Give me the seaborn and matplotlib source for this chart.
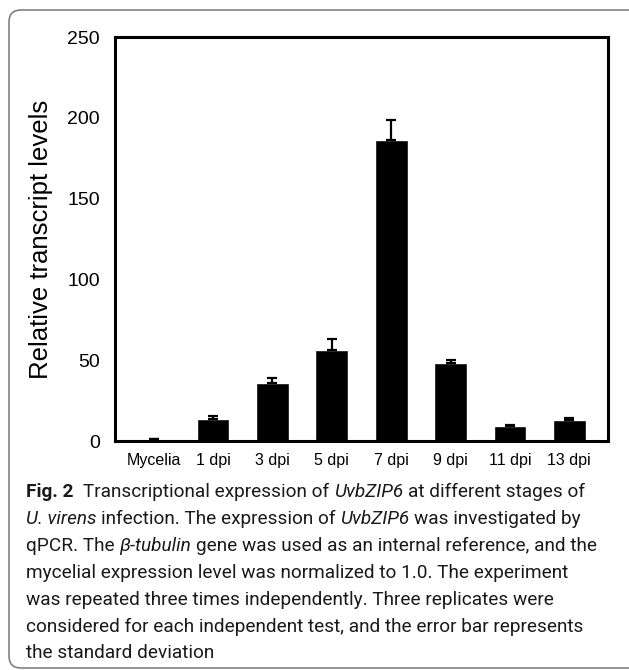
import matplotlib
matplotlib.use("Agg")
import matplotlib.pyplot as plt
import seaborn as sns
import numpy as np
from matplotlib.patches import FancyBboxPatch
from matplotlib.transforms import IdentityTransform

# ---------------- data ----------------
categories = ["Mycelia", "1 dpi", "3 dpi", "5 dpi", "7 dpi", "9 dpi", "11 dpi", "13 dpi"]
values = [1.0, 13.7, 35.7, 56.3, 186.5, 48.0, 9.3, 13.0]
errors = [0.2, 2.0, 3.3, 6.8, 12.4, 2.3, 0.4, 1.0]
yticks = [0, 50, 100, 150, 200, 250]
ylabel = "Relative transcript levels"

caption_lines = [
    [("Fig. 2", "bold"), ("  Transcriptional expression of ", "n"), ("UvbZIP6", "i"), (" at different stages of", "n")],
    [("U. virens", "i"), (" infection. The expression of ", "n"), ("UvbZIP6", "i"), (" was investigated by", "n")],
    [("qPCR. The ", "n"), ("β-tubulin", "i"), (" gene was used as an internal reference, and the", "n")],
    [("mycelial expression level was normalized to 1.0. The experiment", "n")],
    [("was repeated three times independently. Three replicates were", "n")],
    [("considered for each independent test, and the error bar represents", "n")],
    [("the standard deviation", "n")],
]
caption_right = [580, 573, 598, 567, 558, 590, None]

# ---------------- figure ----------------
sns.set_theme(style="white")
plt.rcParams['font.family'] = ['Liberation Sans', 'DejaVu Sans']

W, H = 629, 670
fig = plt.figure(figsize=(W / 100, H / 100), dpi=100)
fig.patch.set_facecolor("white")

ax = fig.add_axes([115 / W, 1 - 441 / H, (608 - 115) / W, (441 - 37) / H])
sns.barplot(x=categories, y=values, color="black", saturation=1, width=0.55,
            errorbar=None, ax=ax)
ax.errorbar(np.arange(len(categories)), values,
            yerr=[np.zeros(len(errors)), errors], fmt="none",
            ecolor="black", elinewidth=1.6, capsize=3.6, capthick=1.6)

ax.set_ylim(0, 250)
ax.set_yticks(yticks)
ax.set_yticklabels([str(v) for v in yticks], fontsize=14)
ax.tick_params(axis="y", length=0, pad=11, colors="black")
ax.tick_params(axis="x", length=0, pad=9, labelsize=11.5, colors="black")
ax.set_xlabel("")
ax.set_ylabel(ylabel, fontsize=18.5, color="black")
ax.yaxis.set_label_coords((53 - 115) / 493, 0.5)
for s in ax.spines.values():
    s.set_visible(True)
    s.set_color("black")
    s.set_linewidth(2.2)
ax.set_facecolor("white")

# ---------------- frame ----------------
frame = FancyBboxPatch((9, H - 668), 660, 668 - 10,
                       boxstyle="round,pad=0,rounding_size=12",
                       transform=IdentityTransform(), facecolor="none",
                       edgecolor="#777777", linewidth=1.1)
fig.add_artist(frame)

# ---------------- caption ----------------
cap_family = ["Roboto", "DejaVu Sans"]
renderer = fig.canvas.get_renderer()


def style_kw(st, size):
    kw = dict(fontsize=size, family=cap_family, color="#1a1a1a")
    if st == "bold":
        kw["fontweight"] = "bold"
    elif st == "i":
        kw["fontstyle"] = "italic"
    return kw


def text_width(s, st, size):
    if s == "":
        return 0.0
    t = fig.text(0, 0, s, transform=IdentityTransform(), **style_kw(st, size))
    w = t.get_window_extent(renderer).width
    t.remove()
    return w


def space_width(st, size):
    return text_width("x x", st, size) - text_width("xx", st, size)


def run_width(s, st, size):
    lead = len(s) - len(s.lstrip(" "))
    trail = len(s) - len(s.rstrip(" "))
    core = s.strip(" ")
    return (lead + trail) * space_width(st, size) + text_width(core, st, size)


def line_width(line, size):
    return sum(run_width(s, st, size) for s, st in line)


x0 = 26
ref = 10.0
ratios = []
for line, r in zip(caption_lines, caption_right):
    if r is not None:
        ratios.append((r - x0) / line_width(line, ref))
cap_size = ref * float(np.mean(ratios))

baselines = [497, 524, 551, 578, 605, 632, 658]
for line, yb in zip(caption_lines, baselines):
    x = x0
    for s, st in line:
        lead = len(s) - len(s.lstrip(" "))
        trail = len(s) - len(s.rstrip(" "))
        core = s.strip(" ")
        sw = space_width(st, cap_size)
        x += lead * sw
        if core:
            fig.text(x, H - yb, core, transform=IdentityTransform(),
                     va="baseline", ha="left", **style_kw(st, cap_size))
            x += text_width(core, st, cap_size)
        x += trail * sw

fig.savefig("out.png", dpi=100, facecolor="white")
